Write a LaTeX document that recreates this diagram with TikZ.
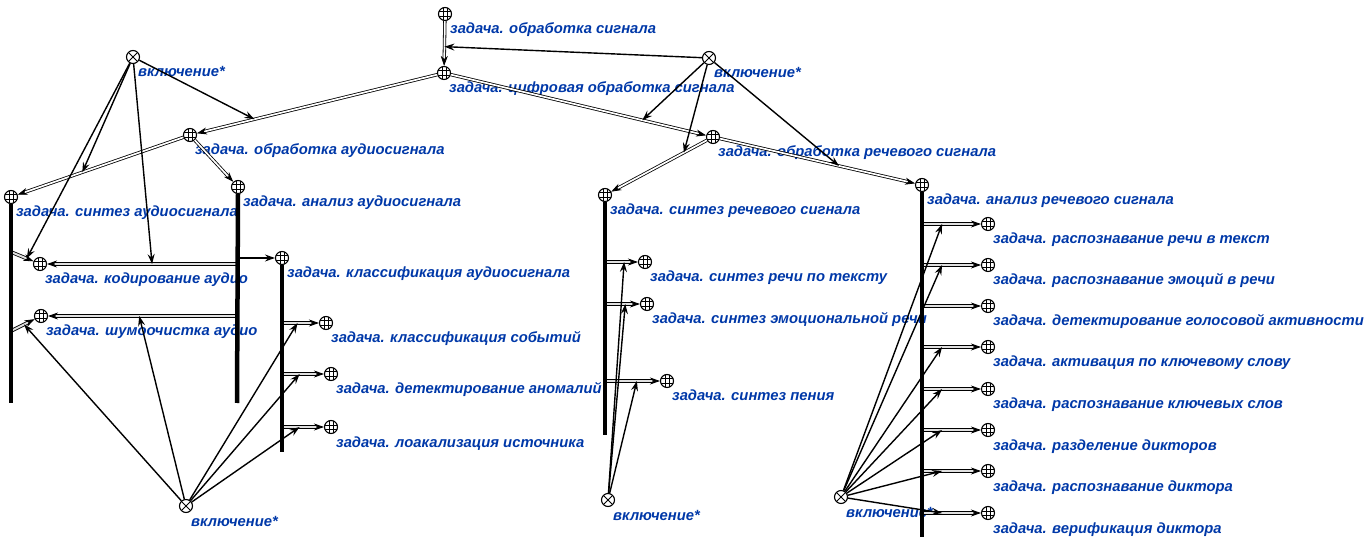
\documentclass[tikz,border=0pt]{standalone}
\usepackage{fontspec}
\setmainfont{Liberation Sans}
\usetikzlibrary{arrows.meta}
\definecolor{lblue}{RGB}{0,56,168}

\begin{document}
\begin{tikzpicture}[x=1pt,y=-1pt,
task/.style={draw,circle,fill=white,line width=1.1pt,minimum size=13pt,inner sep=0pt,
    path picture={
    \foreach \d in {-2.2pt,2.2pt}{
        \draw[line width=0.6pt] ([xshift=\d]path picture bounding box.north) -- ([xshift=\d]path picture bounding box.south);
        \draw[line width=0.6pt] ([yshift=\d]path picture bounding box.west) -- ([yshift=\d]path picture bounding box.east);
    }}},
junc/.style={draw,circle,fill=white,line width=1.1pt,minimum size=13pt,inner sep=0pt,
    path picture={
    \draw[line width=1pt] (path picture bounding box.north west) -- (path picture bounding box.south east)
        (path picture bounding box.north east) -- (path picture bounding box.south west);}},
lbl/.style={anchor=base west,inner sep=0pt,xshift=5pt,yshift=-20pt,text=lblue,
    font=\fontsize{14.8}{16}\selectfont\bfseries\itshape},
bar/.style={line width=4.5pt},
dlink/.style={double=white,double distance=1.7pt,line width=0.8pt,-{Stealth[length=10pt,width=7pt,inset=3pt]}},
blink/.style={dlink,double=black!12,double distance=2pt},
assoc/.style={line width=1.4pt,-{Stealth[length=10pt,width=7pt,inset=3.5pt]}}]
\useasboundingbox (0,0) rectangle (1369,545);

\node (t0) [task] at (445,14) {};
\node (t1) [task] at (444,73) {};
\node (t2) [task] at (190,135) {};
\node (t3) [task] at (713,137) {};
\node (t4) [task] at (11,197) {};
\node (t5) [task] at (238,187) {};
\node (t6) [task] at (40,264) {};
\node (t7) [task] at (41,316) {};
\node (t8) [task] at (282,258) {};
\node (t9) [task] at (326,323) {};
\node (t10) [task] at (331,374) {};
\node (t11) [task] at (331,427) {};
\node (t12) [task] at (605,195) {};
\node (t13) [task] at (645,262) {};
\node (t14) [task] at (647,304) {};
\node (t15) [task] at (667,381) {};
\node (t16) [task] at (922,185) {};
\foreach \i/\y in {17/224,18/265,19/306,20/347,21/389,22/430,23/471,24/513}
    \node (t\i) [task] at (988,\y) {};

\node (x0) [junc] at (133,57) {};
\node (x1) [junc] at (709,58) {};
\node (x2) [junc] at (186,506) {};
\node (x3) [junc] at (608,500) {};
\node (x4) [junc] at (841,497) {};

\foreach \n/\txt in {t0/{задача. обработка сигнала},
    t1/{задача. цифровая обработка сигнала},
    t2/{задача. обработка аудиосигнала},
    t3/{задача. обработка речевого сигнала},
    t4/{задача. синтез аудиосигнала},
    t5/{задача. анализ аудиосигнала},
    t6/{задача. кодирование аудио},
    t7/{задача. шумоочистка аудио},
    t8/{задача. классификация аудиосигнала},
    t9/{задача. классификация событий},
    t10/{задача. детектирование аномалий},
    t11/{задача. лоакализация источника},
    t12/{задача. синтез речевого сигнала},
    t13/{задача. синтез речи по тексту},
    t14/{задача. синтез эмоциональной речи},
    t15/{задача. синтез пения},
    t16/{задача. анализ речевого сигнала},
    t17/{задача. распознавание речи в текст},
    t18/{задача. распознавание эмоций в речи},
    t19/{задача. детектирование голосовой активности},
    t20/{задача. активация по ключевому слову},
    t21/{задача. распознавание ключевых слов},
    t22/{задача. разделение дикторов},
    t23/{задача. распознавание диктора},
    t24/{задача. верификация диктора},
    x0/{включение*},x1/{включение*},x2/{включение*},x3/{включение*},x4/{включение*}}
    \node (\n l) [lbl] at (\n) {\txt};

\coordinate (t4e) at (11,403);
\coordinate (t5e) at (237,403);
\coordinate (t8e) at (282,452);
\coordinate (t12e) at (605,435);
\coordinate (t16e) at (922,537);
\coordinate (t4a) at (11,252);
\coordinate (t4b) at (11,331);

\draw[dlink] (t0) -- (t1) coordinate[pos=.57] (m01);
\draw[dlink] (t1) -- (t2) coordinate[pos=.76] (m12);
\draw[dlink] (t1) -- (t3) coordinate[pos=.75] (m13);
\draw[dlink] (t2) -- (t4) coordinate[pos=.61] (m24);
\draw[dlink] (t2) -- (t5);
\draw[dlink] (t3) -- (t12) coordinate[pos=.24] (m312);
\draw[dlink] (t3) -- (t16) coordinate[pos=.61] (m316);

\draw[blink] (t4a) -- (t6) coordinate[pos=.7] (m46);
\draw[blink] (t4b) -- (t7) coordinate[pos=.55] (m47);
\draw[blink] (t5 |- t6) -- (t6) coordinate[pos=.45] (m56);
\draw[blink] (t5 |- t7) -- (t7) coordinate[pos=.52] (m57);
\draw[assoc] (t5 |- t8) -- (t8);
\foreach \i in {9,10,11}
    \draw[blink] (t8 |- t\i) -- (t\i) coordinate[pos=.42] (b\i);
\foreach \i in {13,14,15}
    \draw[blink] (t12 |- t\i) -- (t\i) coordinate[pos=.58] (b\i);
\foreach \i in {17,...,24}
    \draw[blink] (t16 |- t\i) -- (t\i) coordinate[pos=.34] (b\i);

\draw[bar] (t4.south) -- (t4e);
\draw[bar] (t5.south) -- (t5e);
\draw[bar] (t8.south) -- (t8e);
\draw[bar] (t12.south) -- (t12e);
\draw[bar] (t16.south) -- (t16e);

\foreach \m in {m01,m13,m312,m316}
    \draw[assoc] (x1) -- (\m);
\foreach \m in {m12,m24,m46,m56}
    \draw[assoc] (x0) -- (\m);
\foreach \m in {m47,m57,b9,b10,b11}
    \draw[assoc] (x2) -- (\m);
\foreach \m in {b13,b14,b15}
    \draw[assoc] (x3) -- (\m);
\foreach \m in {b17,b18,b20,b21,b22,b23,b24}
    \draw[assoc] (x4) -- (\m);
\end{tikzpicture}
\end{document}
